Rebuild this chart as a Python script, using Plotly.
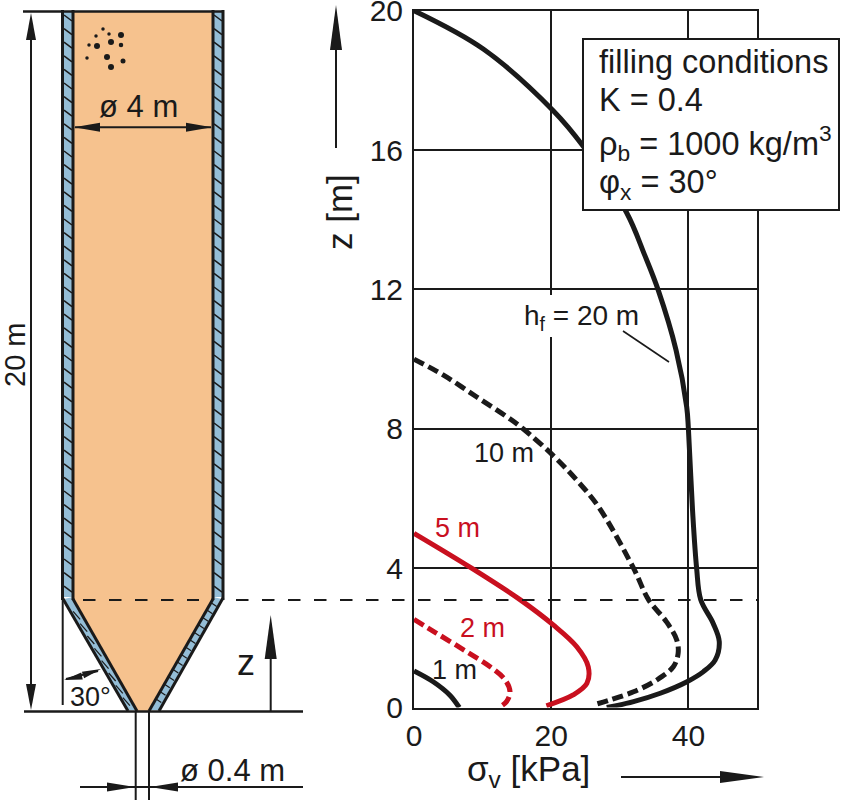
import plotly.graph_objects as go

W, H = 841, 800

# ---- chart data: vertical stress sigma_v [kPa] against height z [m]
z_20 = [20, 18.9, 17.13, 16.1, 14.2, 13, 11.98, 10.26, 8.63, 8, 5.67, 4, 3.09, 2.42, 1.89, 1.36, 1.03, 0.74, 0.41, 0.17, 0]
s_20 = [0, 10.1, 20.3, 24.7, 31, 33.6, 35.6, 38.2, 39.75, 40, 40.6, 41.2, 41.8, 43.6, 44.5, 43.9, 42.2, 39.8, 35.9, 32, 28.1]
z_10 = [10, 9.54, 8.92, 8.35, 8, 7.23, 6.53, 5.76, 4, 3.09, 2.46, 1.94, 1.55, 1.17, 0.79, 0.45, 0.22, 0.07]
s_10 = [0, 4.3, 9.1, 13.5, 15.9, 20.3, 23.7, 26.9, 32, 34.2, 36.8, 38.3, 38.5, 37.8, 35.4, 32, 28.6, 26.1]
z_5 = [5, 4, 3.09, 2.37, 1.75, 1.17, 0.69, 0.36, 0.05]
s_5 = [0, 8.4, 15.5, 20.3, 23.7, 25.4, 25.2, 23.2, 19.3]
z_2 = [2.53, 2.13, 1.6, 1.17, 0.79, 0.45, 0.17, 0]
s_2 = [0, 3.3, 7.7, 11.1, 13.3, 14, 13.5, 12.4]
z_1 = [1.05, 0.74, 0.36, 0]
s_1 = [0, 2.8, 5.2, 6.6]

x_ticks = [0, 20, 40]
y_ticks = [0, 4, 8, 12, 16, 20]

BLACK = "#1a1a1a"
RED = "#c9101f"
ORANGE = "#f6c28e"
BLUE = "#94bdd6"
FONT = "Liberation Sans"

# plot box in page pixels
BX0, BX1, BY0, BY1 = 414, 757, 707.5, 10.7

fig = go.Figure()


def px(xs, ys, color=BLACK, width=2, dash=None, fill=None, fillcolor=None):
    fig.add_trace(go.Scatter(
        x=xs, y=ys, xaxis="x2", yaxis="y2", mode="lines", hoverinfo="skip", showlegend=False,
        fill=fill, fillcolor=fillcolor, cliponaxis=False,
        line=dict(color=color, width=width, dash=dash)))


def poly(points, color, line_color=None, width=0):
    xs = [p[0] for p in points] + [points[0][0]]
    ys = [p[1] for p in points] + [points[0][1]]
    px(xs, ys, color=line_color or color, width=width, fill="toself", fillcolor=color)


def head(tip, base, half):
    # arrow head from tip to the middle of its base
    dx, dy = base[0] - tip[0], base[1] - tip[1]
    n = (dx * dx + dy * dy) ** 0.5
    ox, oy = -dy / n * half, dx / n * half
    poly([tip, (base[0] + ox, base[1] + oy), (base[0] - ox, base[1] - oy)], BLACK)


# silo body
poly([(73, 11), (213, 11), (213, 600), (149, 711), (136, 711), (73, 600)], ORANGE)

# walls
poly([(63, 11), (73, 11), (73, 597), (63, 597)], BLUE)
poly([(213, 11), (223, 11), (223, 597), (213, 597)], BLUE)
poly([(64, 599), (73, 597), (137, 710), (127, 710)], BLUE)
poly([(222, 599), (213, 597), (149, 710), (159, 710)], BLUE)

hx, hy = [], []
y = 15
while y < 590:
    hx += [64, 72, None, 214, 222, None]
    hy += [y, y + 6, None, y, y + 6, None]
    y += 13.6
px(hx, hy, width=1.5)

cx, cy = [], []
for i in range(1, 9):
    t = i / 9
    # left cone wall: long thin strokes nearly along the wall
    cx += [64 + 64 * t + 2, 64 + 64 * t + 9, None]
    cy += [599 + 111 * t, 599 + 111 * t + 8, None]
for i in range(1, 15):
    t = i / 15
    # right cone wall: short strokes across the wall
    cx += [221 - 64 * t, 215 - 64 * t, None]
    cy += [599 + 111 * t, 599 + 111 * t - 4, None]
px(cx, cy, width=1.2)

px([62.5, 62.5, None, 73, 73, None, 213, 213, None, 223, 223], [10, 600, None, 10, 600, None, 10, 600, None, 10, 600], width=3)
px([62.5, 128, None, 73, 137, None, 213, 149, None, 223, 159], [598, 711, None, 599, 711, None, 599, 711, None, 598, 711], width=3)

# top and base lines
px([23, 224], [11.5, 11.5], width=2.5)
px([24, 303], [711.5, 711.5], width=2.5)

# height dimension
px([31, 31], [20, 700])
head((31, 13), (31, 40), 5)
head((31, 710), (31, 684), 5)

# outlet dimension
px([135.7, 135.7, None, 149, 149], [711, 800, None, 711, 800])
px([80, 303], [787, 787])
head((135, 787), (107, 787), 4.5)
head((150, 787), (178, 787), 4.5)

# diameter dimension
px([75, 211], [127.3, 127.3])
head((74, 127.3), (100, 127.3), 4.5)
head((212, 127.3), (186, 127.3), 4.5)

# z arrow beside silo
px([270.7, 270.7], [711, 650])
head((270.7, 615), (270.7, 659), 6)

# 30 degree marker
px([62.7, 62.7], [600, 705])
px([66, 98], [679, 671])
head((64, 680), (82, 676), 3.5)
head((101, 669), (83, 675), 3.5)

# bulk solid particles
dot_x = [103, 96, 109, 121, 89, 97, 111, 121, 87, 107, 123, 111]
dot_y = [29, 36, 34, 35, 45, 46, 42, 45, 58, 57, 61, 67]
dot_s = [3.5, 3.5, 3.5, 6, 3.5, 6, 6, 4.5, 3.5, 6, 5, 6]
fig.add_trace(go.Scatter(x=dot_x, y=dot_y, xaxis="x2", yaxis="y2", mode="markers", hoverinfo="skip",
                         showlegend=False, marker=dict(color=BLACK, size=dot_s, opacity=1, line=dict(width=0))))

# dashed level of the transition
px([83, 199, None, 236, 757], [600, 600, None, 600, 600], width=2, dash="12.5px,13.5px")

# arrows beside the chart
px([336, 336], [148, 40])
head((336, 5), (336, 50), 6)
px([621, 730], [777, 777])
head((764, 777), (720, 777), 6)

# leader for hf label
px([623, 669], [331, 362], width=1.6)

# curves
for s, z, col, dash in [(s_20, z_20, BLACK, None), (s_10, z_10, BLACK, "11px,5px"),
                        (s_5, z_5, RED, None), (s_2, z_2, RED, "11px,5px"), (s_1, z_1, BLACK, None)]:
    fig.add_trace(go.Scatter(x=s, y=z, mode="lines", hoverinfo="skip", showlegend=False, cliponaxis=False,
                             line=dict(color=col, width=5, dash=dash, shape="spline", smoothing=1.0)))

# filling conditions box and the gap in the grid behind the hf label
fig.add_shape(type="rect", xref="x2", yref="y2", x0=583, x1=839, y0=39, y1=210, layer="above",
              fillcolor="white", line=dict(color=BLACK, width=2))
fig.add_shape(type="rect", xref="x2", yref="y2", x0=545, x1=561, y0=295, y1=337, layer="above",
              fillcolor="white", line=dict(width=0))


def label(x, y, text, size=24, color=BLACK, anchor="center", angle=0):
    fig.add_annotation(xref="x2", yref="y2", x=x, y=y, text=text, showarrow=False, xanchor=anchor,
                       yanchor="middle", textangle=angle, font=dict(family=FONT, size=size, color=color))


label(597, 62, "filling conditions", 32.5, anchor="left")
label(597, 100, "K = 0.4", 32.5, anchor="left")
label(597, 143, "ρ<sub>b</sub> = 1000 kg/m<sup>3</sup>", 32.5, anchor="left")
label(597, 184, "φ<sub>x</sub> = 30°", 32.5, anchor="left")

label(138.5, 106, "ø 4 m", 31)
label(15, 355, "20 m", 29, angle=-90)
label(246, 662, "z", 36)
label(90, 697, "30°", 27)
label(232, 770, "ø 0.4 m", 31)
label(339, 212, "z [m]", 35, angle=-90)
label(528, 771, "σ<sub>v</sub> [kPa]", 35)
label(581, 317, "h<sub>f</sub> = 20 m", 28)
label(504, 453, "10 m", 27)
label(457, 528, "5 m", 27, color=RED)
label(482, 628, "2 m", 27, color=RED)
label(454, 670, "1 m", 27)

axis_common = dict(showline=True, linecolor=BLACK, linewidth=2, mirror=True, showgrid=True,
                   gridcolor=BLACK, gridwidth=2, zeroline=False, ticks="", fixedrange=True,
                   automargin=False, ticklabeloverflow="allow",
                   tickfont=dict(family=FONT, size=30, color=BLACK))

fig.update_layout(
    template="none",
    width=W, height=H, margin=dict(l=0, r=0, t=0, b=0, pad=0), showlegend=False,
    paper_bgcolor="white", plot_bgcolor="rgba(0,0,0,0)",
    xaxis=dict(domain=[BX0 / W, BX1 / W], range=[0, 50], tickvals=x_ticks, ticklabelstandoff=0, **axis_common),
    yaxis=dict(domain=[1 - BY0 / H, 1 - BY1 / H], range=[0, 20], tickvals=y_ticks, ticklabelstandoff=3, **axis_common),
    xaxis2=dict(domain=[0, 1], range=[0, W], visible=False, anchor="y2", fixedrange=True, automargin=False),
    yaxis2=dict(domain=[0, 1], range=[H, 0], visible=False, anchor="x2", fixedrange=True, automargin=False),
)

fig.write_html("out.html", config={"displayModeBar": False},
               post_script="document.body.style.margin='0';document.body.style.overflow='hidden';")
